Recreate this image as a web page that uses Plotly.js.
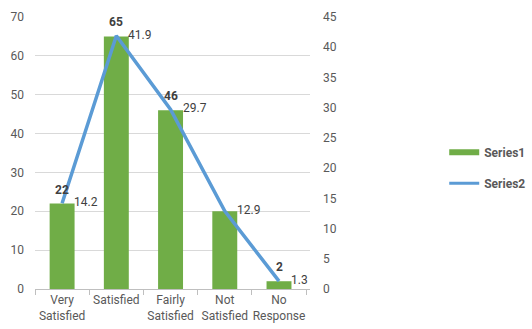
<!DOCTYPE html>
<html><head><meta charset="utf-8">
<script src="https://cdn.plot.ly/plotly-3.0.1.min.js"></script>
<style>html,body{margin:0;padding:0;background:#fff}#chart{width:532px;height:329px}</style>
</head><body><div id="chart"></div>
<script>
const categories = ["Very<br>Satisfied", "Satisfied", "Fairly<br>Satisfied", "Not<br>Satisfied", "No<br>Response"];
const series1 = [22, 65, 46, 20, 2];
const series1Labels = ["22", "65", "46", "", "2"];
const series2 = [14.2, 41.9, 29.7, 12.9, 1.3];
const series2Labels = ["14.2", "41.9", "29.7", "12.9", "1.3"];
const leftTicks = [0, 10, 20, 30, 40, 50, 60, 70];
const rightTicks = [0, 5, 10, 15, 20, 25, 30, 35, 40, 45];

const fam = "Roboto, 'Liberation Sans', sans-serif";
const font = {family: fam, size: 12, color: "#595959"};

const traces = [
  {type: "bar", x: categories, y: series1, name: "Series1", showlegend: false,
   marker: {color: "#70AD47"}},
  {type: "scatter", mode: "lines", x: categories, y: series2, yaxis: "y2", name: "Series2",
   showlegend: false, line: {color: "#5B9BD5", width: 3.5}},
  {type: "scatter", mode: "lines", x: [null], y: [null], name: "Series1", legendgroup: "a",
   line: {color: "#70AD47", width: 6}, hoverinfo: "skip"},
  {type: "scatter", mode: "lines", x: [null], y: [null], yaxis: "y2", name: "Series2", legendgroup: "b",
   line: {color: "#5B9BD5", width: 3}, hoverinfo: "skip"}
];

const annotations = [];
categories.forEach((c, i) => {
  if (series1Labels[i]) annotations.push({x: c, y: series1[i], xref: "x", yref: "y",
    text: series1Labels[i], showarrow: false, yanchor: "bottom", yshift: 5,
    font: {family: fam, size: 12, color: "#404040", weight: "bold"}});
  annotations.push({x: c, y: series2[i], xref: "x", yref: "y2",
    text: series2Labels[i], showarrow: false, xanchor: "left", xshift: 10, yshift: 1,
    font: {family: fam, size: 12, color: "#404040"}});
});

const layout = {
  width: 532, height: 329,
  margin: {l: 35, r: 222, t: 17, b: 40, autoexpand: false},
  paper_bgcolor: "#fff", plot_bgcolor: "#fff",
  font: font,
  showlegend: true,
  annotations: annotations,
  legend: {xref: "container", yref: "container", x: 0.835, y: 0.49, xanchor: "left", yanchor: "middle",
           traceorder: "grouped",
           font: {family: fam, size: 12, color: "#595959", weight: "bold"},
           tracegroupgap: 12},
  bargap: 0.54,
  xaxis: {type: "category", showgrid: false, showline: true, linecolor: "#bfbfbf",
          ticks: "outside", tickson: "boundaries", ticklen: 5, tickcolor: "#bfbfbf",
          tickangle: 0, tickfont: font, fixedrange: true},
  yaxis: {range: [0, 70], tickvals: leftTicks, showgrid: true, gridcolor: "#d9d9d9",
          zeroline: false, showline: false, tickfont: font, ticklabelstandoff: 10},
  yaxis2: {range: [0, 45], tickvals: rightTicks, overlaying: "y", side: "right",
           showgrid: false, zeroline: false, showline: false, tickfont: font, ticklabelstandoff: 12}
};

Plotly.newPlot("chart", traces, layout, {displayModeBar: false, staticPlot: true});
</script></body></html>
